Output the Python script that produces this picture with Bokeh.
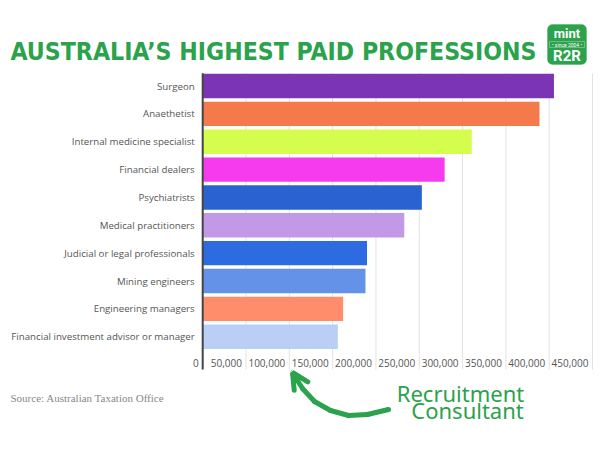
from bokeh.plotting import figure
from bokeh.models import (ColumnDataSource, Label, LabelSet, Range1d,
                          BoxAnnotation, Arrow, OpenHead)
from bokeh.core.properties import value
from bokeh.embed import file_html
from bokeh.resources import INLINE

# ---------------- data ----------------
categories = ["Surgeon", "Anaethetist", "Internal medicine specialist", "Financial dealers",
              "Psychiatrists", "Medical practitioners", "Judicial or legal professionals",
              "Mining engineers", "Engineering managers", "Financial investment advisor or manager"]
values = [405500, 388800, 310600, 279300, 253000, 232700, 189700, 187900, 162100, 156000]
colors = ["#7B35B4", "#F47A4C", "#D5FD4E", "#F63BEF", "#2A62D2",
          "#C299E6", "#2D6BE0", "#6592E9", "#FF8C6A", "#B9CFF6"]
tick_values = [0, 50000, 100000, 150000, 200000, 250000, 300000, 350000, 400000, 450000]
tick_labels = ["0", "50,000", "100,000", "150,000", "200,000", "250,000",
               "300,000", "350,000", "400,000", "450,000"]

GREEN = "#2BA24C"

# ---------------- geometry (canvas = whole page) ----------------
W, H = 600, 450
PX0 = 202.2                 # pixel of value 0
KX = 389.8 / 450000         # pixels per unit value
PY0 = 85.5                  # pixel of first category centre
KY = 27.86                  # pixels per category step

x_start, x_end = -PX0 / KX, (W - PX0) / KX
y_top, y_bot = -PY0 / KY, (H - PY0) / KY


def X(px):
    return (px - PX0) / KX


def Y(py):
    return (py - PY0) / KY


p = figure(width=W, height=H, x_range=Range1d(x_start, x_end), y_range=Range1d(y_bot, y_top),
           x_axis_location=None, y_axis_location=None,
           min_border_left=0, min_border_right=0, min_border_top=0, min_border_bottom=0,
           output_backend="svg", toolbar_location=None)
p.outline_line_color = None
p.grid.visible = False
p.background_fill_color = "white"
p.border_fill_color = "white"

ypos = list(range(len(categories)))
plot_top, plot_bottom = Y(72.7), Y(369)

# grid lines
p.segment(x0=tick_values, x1=tick_values, y0=[plot_top] * len(tick_values),
          y1=[plot_bottom] * len(tick_values), line_color="#e2e2e2", line_width=1)

# bars
src = ColumnDataSource(dict(y=ypos, value=values, color=colors, name=categories))
p.hbar(y="y", left=0, right="value", height=0.876, fill_color="color",
       line_color=None, source=src)

# axis line
p.segment(x0=[0], x1=[0], y0=[plot_top], y1=[plot_bottom], line_color="#444444", line_width=2)

# category labels
csrc = ColumnDataSource(dict(x=[0] * len(categories), y=ypos, text=categories))
p.add_layout(LabelSet(x="x", y="y", text="text", source=csrc, text_align="right",
                      text_baseline="middle", x_offset=-8,
                      text_font=value("Open Sans"), text_font_size=value("9.7px"),
                      text_color="#555555"))

# x tick labels (placed left of each gridline, as in the reference)
tsrc = ColumnDataSource(dict(x=tick_values, y=[len(categories) - 0.05] * len(tick_values),
                             text=tick_labels))
p.add_layout(LabelSet(x="x", y="y", text="text", source=tsrc, text_align="right",
                      text_baseline="middle", x_offset=-4,
                      text_font=value("Open Sans"), text_font_size=value("10px"),
                      text_color="#555555"))

# title
p.add_layout(Label(x=X(10), y=Y(50.5), text="AUSTRALIA\u2019S HIGHEST PAID PROFESSIONS",
                   text_font="DejaVu Sans Condensed, Roboto", text_font_style="bold",
                   text_font_size="24.6px", text_color=GREEN,
                   text_align="left", text_baseline="middle"))

# logo
p.add_layout(BoxAnnotation(left=X(547), right=X(586), top=Y(24), bottom=Y(64),
                           fill_color=GREEN, fill_alpha=1, line_color=GREEN,
                           border_radius=5))
p.add_layout(BoxAnnotation(left=X(549), right=X(584), top=Y(41), bottom=Y(47),
                           fill_alpha=0, line_color="white", line_width=1))
p.add_layout(Label(x=X(566.5), y=Y(33), text="mint", text_font="Roboto",
                   text_font_style="bold", text_font_size="13px", text_color="white",
                   text_align="center", text_baseline="middle"))
p.add_layout(Label(x=X(566.5), y=Y(44), text="\u2022 since 2004 \u2022", text_font="Roboto",
                   text_font_size="5px", text_color="white",
                   text_align="center", text_baseline="middle"))
p.add_layout(Label(x=X(566.5), y=Y(55.5), text="R2R", text_font="Roboto",
                   text_font_style="bold", text_font_size="15px", text_color="white",
                   text_align="center", text_baseline="middle"))

# source
p.add_layout(Label(x=X(10), y=Y(397), text="Source: Australian Taxation Office",
                   text_font="Liberation Serif", text_font_size="11px", text_color="#888888",
                   text_align="left", text_baseline="middle"))

# annotation text
p.add_layout(Label(x=X(460), y=Y(392), text="Recruitment", text_font="Noto Sans",
                   text_font_size="22px", text_color=GREEN,
                   text_align="center", text_baseline="middle"))
p.add_layout(Label(x=X(467), y=Y(409), text="Consultant", text_font="Noto Sans",
                   text_font_size="22px", text_color=GREEN,
                   text_align="center", text_baseline="middle"))

# curved arrow
pts = [(388, 409), (367, 414), (348, 415), (330, 410), (314, 401), (302, 388)]
for (ax, ay), (bx, by) in zip(pts[:-1], pts[1:]):
    p.add_layout(Arrow(end=None, x_start=X(ax), y_start=Y(ay), x_end=X(bx), y_end=Y(by),
                       line_color=GREEN, line_width=5, line_cap="round"))
p.add_layout(Arrow(end=OpenHead(size=16, line_color=GREEN, line_width=5, line_cap="round"),
                   x_start=X(302), y_start=Y(388), x_end=X(292), y_end=Y(372),
                   line_color=GREEN, line_width=5, line_cap="round"))

open("out.html", "w").write(file_html(p, INLINE))
